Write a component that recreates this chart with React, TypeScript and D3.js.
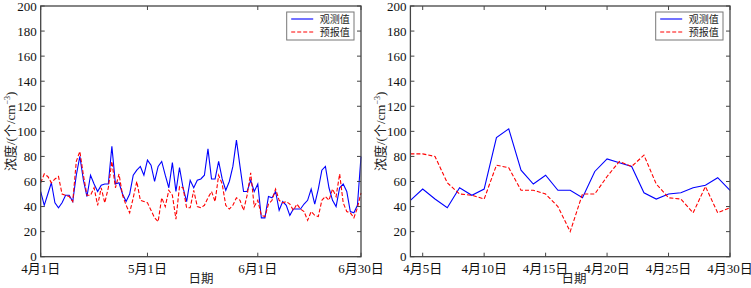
import React from "react";
import * as d3 from "d3";

// ---------- data ----------
const leftStart = "2015-04-01";
const leftEnd = "2015-06-30";
const leftObserved = [
  52, 41, 50, 59, 43, 39, 43, 49, 49, 44, 65, 80, 61, 48, 65, 58, 52, 57, 58, 58,
  88, 58, 59, 50, 44, 50, 65, 69, 72, 65, 77,
  73, 60, 72, 76, 65, 55, 75, 52, 71, 55, 44, 61, 55, 61, 62, 65, 86, 62, 62, 76,
  62, 53, 60, 72, 93, 72, 52, 52, 61, 52, 58, 31, 31, 48,
  47, 52, 37, 44, 41, 33, 38, 38, 38, 42, 45, 54, 42, 54, 69, 72, 55, 45, 40, 55,
  58, 52, 36, 35, 41, 80,
];
const leftForecast = [
  59, 66, 64, 59, 62, 64, 50, 49, 48, 44, 76, 84, 65, 49, 49, 55, 41, 55, 43, 55,
  76, 55, 66, 49, 41, 35, 47, 60, 45, 44,
  43, 37, 31, 28, 47, 40, 53, 49, 30, 56, 55, 39, 39, 53, 40, 39, 41, 47, 52, 44,
  65, 58, 41, 38, 41, 47, 45, 37, 49, 67, 40, 45, 33, 32, 42,
  45, 54, 45, 43, 44, 42, 37, 42, 38, 36, 29, 36, 33, 32, 45, 48, 45, 54, 48, 66,
  43, 36, 35, 31, 39, 51,
];
const leftTickDates = ["2015-04-01", "2015-05-01", "2015-06-01", "2015-06-30"];
const leftTickLabels = ["4月1日", "5月1日", "6月1日", "6月30日"];

const rightStart = "2015-04-04";
const rightEnd = "2015-04-30";
const rightObserved = [
  45, 54, 46, 39, 55, 49, 54, 95, 102, 69, 58, 65, 53, 53, 47, 68, 78, 75, 72, 51,
  46, 50, 51, 55, 57, 63, 53,
];
const rightForecast = [
  82, 82, 80, 59, 50, 49, 46, 73, 71, 53, 53, 50, 40, 20, 50, 50, 64, 76, 72, 81,
  58, 47, 46, 35, 56, 35, 39,
];
const rightTickDates = [
  "2015-04-05", "2015-04-10", "2015-04-15", "2015-04-20", "2015-04-25", "2015-04-30",
];
const rightTickLabels = ["4月5日", "4月10日", "4月15日", "4月20日", "4月25日", "4月30日"];

const yTicks = [0, 20, 40, 60, 80, 100, 120, 140, 160, 180, 200];
const seriesNames = ["观测值", "预报值"];
const xAxisTitle = "日期";

// ---------- layout ----------
const W = 751;
const H = 288;
const TOP = 6;
const BOTTOM = 256.7;
const FONT = "'Liberation Serif', 'Times New Roman', 'Noto Sans CJK SC', serif";
const FRAME = "#444";

const parse = (s: string) => new Date(s + "T00:00:00Z");
const dayMs = 86400000;

type PanelProps = {
  x0: number;
  x1: number;
  start: string;
  end: string;
  obs: number[];
  fc: number[];
  tickDates: string[];
  tickLabels: string[];
  ylabelX: number;
  xlabelX: number;
};

function Panel(p: PanelProps) {
  const x = d3.scaleUtc().domain([parse(p.start), parse(p.end)]).range([p.x0, p.x1]);
  const y = d3.scaleLinear().domain([0, 200]).range([BOTTOM, TOP]);
  const s0 = parse(p.start).getTime();
  const dateAt = (i: number) => new Date(s0 + i * dayMs);
  const line = d3
    .line<number>()
    .x((_, i) => x(dateAt(i)))
    .y((d) => y(d));
  const tl = 4;
  const legW = 67.3;
  const legX = p.x1 - 7 - legW;
  const legY = 12;
  return (
    <g>
      <rect x={p.x0} y={TOP} width={p.x1 - p.x0} height={BOTTOM - TOP} fill="white" />
      <path d={line(p.obs) || ""} fill="none" stroke="#0000ff" strokeWidth={1.1} />
      <path
        d={line(p.fc) || ""}
        fill="none"
        stroke="#ff0000"
        strokeWidth={1.1}
        strokeDasharray="4,2"
      />
      {/* y ticks */}
      {yTicks.map((t) => (
        <g key={"y" + t}>
          <line x1={p.x0} x2={p.x0 + tl} y1={y(t)} y2={y(t)} stroke={FRAME} strokeWidth={1} />
          <line x1={p.x1} x2={p.x1 - tl} y1={y(t)} y2={y(t)} stroke={FRAME} strokeWidth={1} />
          <text
            x={p.x0 - 4}
            y={y(t)}
            dy="0.35em"
            textAnchor="end"
            fontFamily={FONT}
            fontSize={13}
            fill="#111"
          >
            {t}
          </text>
        </g>
      ))}
      {/* x ticks */}
      {p.tickDates.map((d, i) => {
        const xx = x(parse(d));
        return (
          <g key={"x" + d}>
            <line x1={xx} x2={xx} y1={BOTTOM} y2={BOTTOM - tl} stroke={FRAME} strokeWidth={1} />
            <line x1={xx} x2={xx} y1={TOP} y2={TOP + tl} stroke={FRAME} strokeWidth={1} />
            <text
              x={xx}
              y={273}
              textAnchor="middle"
              fontFamily={FONT}
              fontSize={13}
              fill="#111"
            >
              {p.tickLabels[i]}
            </text>
          </g>
        );
      })}
      <rect
        x={p.x0}
        y={TOP}
        width={p.x1 - p.x0}
        height={BOTTOM - TOP}
        fill="none"
        stroke={FRAME}
        strokeWidth={1.3}
      />
      {/* axis titles */}
      <text
        x={p.xlabelX}
        y={283}
        textAnchor="middle"
        fontFamily={FONT}
        fontSize={12.5}
        fill="#222"
      >
        {xAxisTitle}
      </text>
      <text
        transform={`translate(${p.ylabelX},${(TOP + BOTTOM) / 2}) rotate(-90)`}
        textAnchor="middle"
        fontFamily={FONT}
        fontSize={13}
        fill="#222"
      >
        浓度/(个/cm
        <tspan fontSize={8} dy={-5}>
          −3
        </tspan>
        <tspan dy={5}>)</tspan>
      </text>
      {/* legend */}
      <rect
        x={legX}
        y={legY}
        width={legW}
        height={28}
        fill="white"
        stroke="#777"
        strokeWidth={1}
      />
      <line x1={legX + 4.5} x2={legX + 26.5} y1={legY + 7} y2={legY + 7} stroke="#0000ff" strokeWidth={1.1} />
      <line
        x1={legX + 4.5}
        x2={legX + 26.5}
        y1={legY + 20}
        y2={legY + 20}
        stroke="#ff0000"
        strokeWidth={1.1}
        strokeDasharray="4,2"
      />
      <text x={legX + 33} y={legY + 7} dy="0.35em" fontFamily={FONT} fontSize={10} fill="#222">
        {seriesNames[0]}
      </text>
      <text x={legX + 33} y={legY + 20} dy="0.35em" fontFamily={FONT} fontSize={10} fill="#222">
        {seriesNames[1]}
      </text>
    </g>
  );
}

export default function App() {
  return (
    <div style={{ position: "absolute", left: 0, top: 0 }}>
      <svg width={W} height={H} style={{ display: "block", background: "white" }}>
        <rect x={0} y={0} width={W} height={H} fill="white" />
        <Panel
          x0={40.7}
          x1={361}
          start={leftStart}
          end={leftEnd}
          obs={leftObserved}
          fc={leftForecast}
          tickDates={leftTickDates}
          tickLabels={leftTickLabels}
          ylabelX={15}
          xlabelX={201}
        />
        <Panel
          x0={410.4}
          x1={730}
          start={rightStart}
          end={rightEnd}
          obs={rightObserved}
          fc={rightForecast}
          tickDates={rightTickDates}
          tickLabels={rightTickLabels}
          ylabelX={385}
          xlabelX={574}
        />
      </svg>
    </div>
  );
}
